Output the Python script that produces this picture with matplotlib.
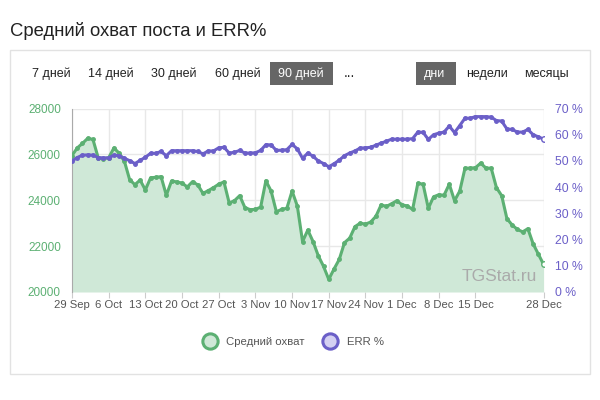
import numpy as np
import matplotlib
matplotlib.use('Agg')
import matplotlib.pyplot as plt
from matplotlib.patches import Rectangle
from matplotlib.lines import Line2D

plt.rcParams['font.family'] = ['Liberation Sans', 'DejaVu Sans']

# данные: по одному значению в день, 29 Sep .. 28 Dec
start = np.datetime64('2019-09-29')
reach = [25950, 26280, 26480, 26700, 26650, 25850, 25820, 25850, 26280, 26050,
         25700, 24900, 24680, 24880, 24450, 24980, 25000, 25030, 24220, 24840,
         24800, 24750, 24580, 24810, 24670, 24300, 24420, 24550, 24700, 24800,
         23880, 23980, 24200, 23680, 23590, 23600, 23700, 24850, 24400, 23500,
         23600, 23650, 24400, 23750, 22200, 22700, 22200, 21580, 21120, 20550,
         21000, 21420, 22150, 22350, 22850, 23000, 22960, 23050, 23300, 23800,
         23730, 23850, 23980, 23800, 23750, 23600, 24740, 24700, 23650, 24150,
         24240, 24220, 24700, 23980, 24400, 25400, 25400, 25420, 25620, 25400,
         25400, 24550, 24200, 23200, 22920, 22730, 22620, 22760, 22100, 21650,
         21200]
err = [50.0, 51.3, 52.2, 52.3, 52.2, 51.3, 51.1, 51.2, 52.2, 52.0,
       51.0, 50.1, 49.0, 50.2, 51.4, 52.9, 52.9, 53.6, 52.0, 53.9,
       53.9, 53.9, 53.9, 53.9, 53.6, 52.7, 53.8, 53.8, 55.0, 55.2,
       53.0, 53.3, 54.0, 53.0, 53.0, 53.1, 54.0, 56.2, 56.1, 54.0,
       54.1, 54.3, 56.3, 54.6, 51.0, 53.0, 51.8, 50.0, 49.0, 47.8,
       48.9, 50.3, 52.0, 53.0, 53.8, 54.9, 55.0, 55.2, 56.0, 56.8,
       57.5, 58.3, 58.3, 58.3, 58.3, 58.5, 61.0, 60.9, 58.2, 60.0,
       60.6, 61.0, 63.3, 60.8, 63.5, 66.3, 66.3, 66.9, 66.9, 66.9,
       66.7, 65.4, 65.2, 62.2, 62.0, 61.0, 61.0, 62.0, 60.0, 59.2,
       58.3]
dates = start + np.arange(len(reach))

periods = ['7 дней', '14 дней', '30 дней', '60 дней', '90 дней', '...']
scales = ['дни', 'недели', 'месяцы']
tick_days = [0, 7, 14, 21, 28, 35, 42, 49, 56, 63, 70, 77, 90]
tick_labels = ['29 Sep', '6 Oct', '13 Oct', '20 Oct', '27 Oct', '3 Nov', '10 Nov',
               '17 Nov', '24 Nov', '1 Dec', '8 Dec', '15 Dec', '28 Dec']

green = '#5cb073'
green_fill = '#cfe8d7'
violet = '#6b5fc8'
violet_fill = '#d4d0f2'
label_grey = '#555555'

fig = plt.figure(figsize=(6, 4), dpi=100)
fig.patch.set_facecolor('white')

# рамка блока (под осями)
fig.patches.append(Rectangle((10/600, 1-374/400), 580/600, (374-50)/400, transform=fig.transFigure,
                             facecolor='white', edgecolor='#e2e2e2', lw=1, zorder=-10))
fig.text(10/600, 1-36/400, 'Средний охват поста и ERR%', fontsize=13.3, color='#222222', va='baseline')

# кнопки
px = [32, 88, 151, 215, 278, 344]
for x, t in zip(px, periods):
    if t == '90 дней':
        fig.patches.append(Rectangle((270/600, 1-85/400), 63/600, 23/400, transform=fig.transFigure,
                                     facecolor='#666666', edgecolor='none', zorder=-5))
        fig.text(x/600, 1-77/400, t, fontsize=9, color='white', va='baseline')
    elif t == '...':
        fig.text(x/600, 1-77/400, t, fontsize=10, color='#222222', va='baseline')
    else:
        fig.text(x/600, 1-77/400, t, fontsize=9, color='#222222', va='baseline')
sx = [424, 466, 524]
for x, t in zip(sx, scales):
    if t == 'дни':
        fig.patches.append(Rectangle((416/600, 1-85/400), 40/600, 23/400, transform=fig.transFigure,
                                     facecolor='#666666', edgecolor='none', zorder=-5))
        fig.text(x/600, 1-77/400, t, fontsize=9, color='white', va='baseline')
    else:
        fig.text(x/600, 1-77/400, t, fontsize=9, color='#222222', va='baseline')

ax = fig.add_axes([72/600, 1-292/400, (543.6-72)/600, (292-108.5)/400])
ax.patch.set_alpha(0)
ax.fill_between(dates, reach, 20000, color=green_fill, lw=0, zorder=1)
ax.plot(dates, reach, color=green, lw=2.2, marker='o', ms=2.5, zorder=3)
ax.plot(dates[-1:], reach[-1:], 'o', ms=4, mfc='white', mec=green, mew=1, zorder=4)
ax.set_ylim(20000, 28000)
ax.set_yticks([20000, 22000, 24000, 26000, 28000])
ax.set_xlim(dates[0], dates[-1])
ax.set_xticks([dates[d] for d in tick_days])
ax.set_xticklabels(tick_labels)
ax.grid(color='#e8e8e8', lw=1)
ax.set_axisbelow(True)
for s in ['top', 'right', 'bottom']:
    ax.spines[s].set_visible(False)
ax.spines['left'].set_color('#aaaaaa')
ax.tick_params(axis='y', colors=green, labelsize=8.5, length=0, pad=8)
ax.tick_params(axis='x', colors='#cccccc', labelcolor=label_grey, labelsize=8.1, length=4, pad=2)
ax.text(0.985, 0.06, 'TGStat.ru', transform=ax.transAxes, ha='right', va='baseline',
        fontsize=12.5, color='#aaaaaa', zorder=5)

ax2 = ax.twinx()
ax2.plot(dates, err, color=violet, lw=2.2, marker='o', ms=2.5, zorder=3)
ax2.plot(dates[-1:], err[-1:], 'o', ms=4, mfc='white', mec=violet, mew=1, zorder=4)
ax2.set_ylim(0, 70)
ax2.set_yticks(range(0, 71, 10))
ax2.set_yticklabels([f'{v} %' for v in range(0, 71, 10)])
for s in ax2.spines.values():
    s.set_visible(False)
ax2.tick_params(axis='y', colors=violet, labelsize=8.8, length=0, pad=8)

# легенда
handles = [Line2D([], [], ls='none', marker='o', ms=11, mfc=green_fill, mec=green, mew=2.2),
           Line2D([], [], ls='none', marker='o', ms=11, mfc=violet_fill, mec=violet, mew=2.2)]
fig.legend(handles, ['Средний охват', 'ERR %'], loc='center', bbox_to_anchor=(0.4875, 1-342/400),
           ncol=2, frameon=False, fontsize=8.2, labelcolor='#555555', handletextpad=0.7,
           columnspacing=1.5, handlelength=1.5)

fig.savefig('out.png', dpi=100, facecolor=fig.get_facecolor())
